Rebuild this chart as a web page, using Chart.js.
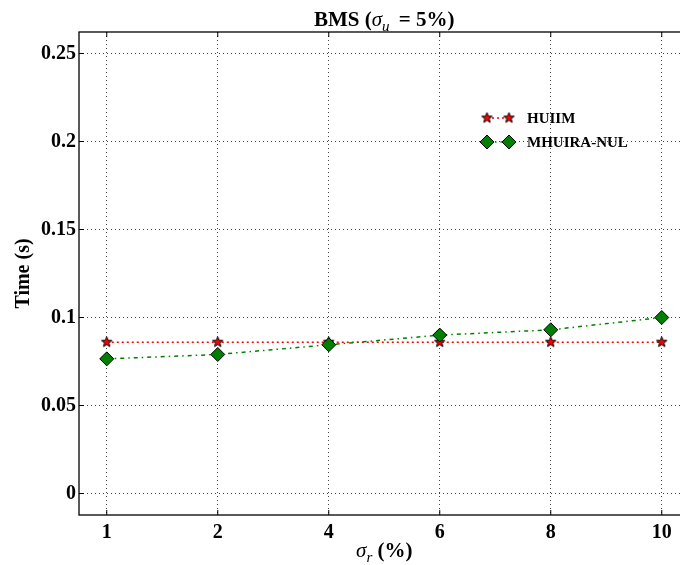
<!DOCTYPE html>
<html>
<head>
<meta charset="utf-8">
<script src="https://cdn.jsdelivr.net/npm/chart.js@4.4.0/dist/chart.umd.min.js"></script>
<style>
  html, body { margin: 0; padding: 0; background: #fff; overflow: hidden; }
  #wrap { width: 680px; height: 565px; overflow: hidden; }
</style>
</head>
<body>
<div id="wrap"><canvas id="chart" width="700" height="565" style="width:700px;height:565px"></canvas></div>
<script>
// values
const sigmaR = ['1', '2', '4', '6', '8', '10']
const huiim = [0.086, 0.086, 0.086, 0.086, 0.086, 0.086]
const mhuiraNul = [0.0765, 0.079, 0.0845, 0.090, 0.093, 0.100]
const yTicks = [0, 0.05, 0.1, 0.15, 0.2, 0.25]
const yTickLabels = ['0', '0.05', '0.1', '0.15', '0.2', '0.25']

const SERIF = '"Liberation Serif", "Times New Roman", serif'
const RED = '#ff0000'
const GREEN = '#008000'

function makeStar(r, fill) {
    const size = Math.ceil(r * 2 + 4)
    const c = document.createElement('canvas')
    c.width = size
    c.height = size
    const g = c.getContext('2d')
    const cx = size / 2, cy = size / 2
    g.beginPath()
    for (let i = 0; i < 10; i++) {
        const rad = i % 2 ? r * 0.42 : r
        const a = -Math.PI / 2 + i * Math.PI / 5
        g.lineTo(cx + rad * Math.cos(a), cy + rad * Math.sin(a))
    }
    g.closePath()
    g.fillStyle = fill
    g.fill()
    g.lineWidth = 1
    g.strokeStyle = '#000'
    g.stroke()
    return c
}

const star = makeStar(5.5, RED)

function drawDiamond(ctx, x, y, r) {
    ctx.save()
    ctx.beginPath()
    ctx.moveTo(x, y - r)
    ctx.lineTo(x + r, y)
    ctx.lineTo(x, y + r)
    ctx.lineTo(x - r, y)
    ctx.closePath()
    ctx.fillStyle = GREEN
    ctx.fill()
    ctx.lineWidth = 1
    ctx.strokeStyle = '#000'
    ctx.stroke()
    ctx.restore()
}

// draw pieces of text in a row, centered on cx
function drawRich(ctx, parts, cx, baseline) {
    let total = 0
    parts.forEach(p => {
        ctx.font = p.font
        p.w = ctx.measureText(p.text).width
        total += p.w + (p.gap || 0)
    })
    let x = cx - total / 2
    ctx.textAlign = 'left'
    ctx.textBaseline = 'alphabetic'
    ctx.fillStyle = '#000'
    parts.forEach(p => {
        ctx.font = p.font
        ctx.fillText(p.text, x, baseline + (p.dy || 0))
        x += p.w + (p.gap || 0)
    })
}

const decorations = {
    id: 'decorations',
    afterDraw(chart) {
        const {ctx, chartArea: a, scales: {x, y}} = chart
        ctx.save()

        // frame
        ctx.strokeStyle = '#000'
        ctx.lineWidth = 1.3
        ctx.strokeRect(a.left, a.top, a.right - a.left, a.bottom - a.top)

        // inward ticks
        ctx.lineWidth = 1
        ctx.beginPath()
        x.ticks.forEach(t => {
            const px = x.getPixelForValue(t.value)
            ctx.moveTo(px, a.bottom); ctx.lineTo(px, a.bottom - 5)
            ctx.moveTo(px, a.top); ctx.lineTo(px, a.top + 5)
        })
        y.ticks.forEach(t => {
            const py = y.getPixelForValue(t.value)
            ctx.moveTo(a.left, py); ctx.lineTo(a.left + 5, py)
            ctx.moveTo(a.right, py); ctx.lineTo(a.right - 5, py)
        })
        ctx.stroke()

        // legend
        const lx1 = 487, lx2 = 509, tx = 527
        const rows = [
            {label: 'HUIIM', y: 118, color: RED, dash: [2, 3], marker: 'star'},
            {label: 'MHUIRA-NUL', y: 142, color: GREEN, dash: [4, 4, 1.5, 4], marker: 'diamond'}
        ]
        rows.forEach(r => {
            ctx.save()
            ctx.strokeStyle = r.color
            ctx.lineWidth = 1.5
            ctx.setLineDash(r.dash)
            ctx.beginPath()
            ctx.moveTo(lx1, r.y)
            ctx.lineTo(lx2, r.y)
            ctx.stroke()
            ctx.restore()
            ;[lx1, lx2].forEach(px => {
                if (r.marker === 'star') ctx.drawImage(star, px - star.width / 2, r.y - star.height / 2)
                else drawDiamond(ctx, px, r.y, 7)
            })
            ctx.font = 'bold 15px ' + SERIF
            ctx.fillStyle = '#000'
            ctx.textAlign = 'left'
            ctx.textBaseline = 'middle'
            ctx.fillText(r.label, tx, r.y + 1)
        })

        const cx = (a.left + a.right) / 2
        // title
        drawRich(ctx, [
            {text: 'BMS (', font: 'bold 21px ' + SERIF},
            {text: 'σ', font: 'italic 21px ' + SERIF},
            {text: 'u', font: 'italic 15px ' + SERIF, dy: 5, gap: 4},
            {text: ' = 5%)', font: 'bold 21px ' + SERIF}
        ], cx, 26)

        // x axis label
        drawRich(ctx, [
            {text: 'σ', font: 'italic 21px ' + SERIF},
            {text: 'r', font: 'italic 15px ' + SERIF, dy: 5},
            {text: ' (%)', font: 'bold 21px ' + SERIF}
        ], cx, 557)

        ctx.restore()
    }
}

const gridLines = {
    color: '#444',
    lineWidth: 1,
    drawTicks: false
}

new Chart(document.getElementById('chart'), {
    type: 'line',
    data: {
        datasets: [
            {
                label: 'HUIIM',
                data: huiim.map((v, i) => ({x: i, y: v})),
                borderColor: RED,
                borderWidth: 1.5,
                borderDash: [2, 3],
                pointStyle: star,
                pointRadius: 5,
                order: 1
            },
            {
                label: 'MHUIRA-NUL',
                data: mhuiraNul.map((v, i) => ({x: i, y: v})),
                borderColor: GREEN,
                backgroundColor: GREEN,
                borderWidth: 1.5,
                borderDash: [4, 4, 1.5, 4],
                pointStyle: 'rectRot',
                pointRadius: 7,
                pointBorderColor: '#000',
                pointBorderWidth: 1,
                pointBackgroundColor: GREEN,
                order: 0
            }
        ]
    },
    options: {
        responsive: false,
        animation: false,
        layout: {padding: {top: 32, right: 10.5, left: 0, bottom: 0}},
        plugins: {
            legend: {display: false},
            tooltip: {enabled: false},
            title: {display: false}
        },
        scales: {
            x: {
                type: 'linear',
                min: -0.25,
                max: 5.25,
                afterBuildTicks: s => { s.ticks = sigmaR.map((_, i) => ({value: i})) },
                afterFit: s => { s.height = 50 },
                grid: gridLines,
                border: {display: false, dash: [1, 3]},
                ticks: {
                    autoSkip: false,
                    maxRotation: 0,
                    padding: 6,
                    color: '#000',
                    font: {family: SERIF, size: 20, weight: 'bold'},
                    callback: v => sigmaR[v]
                }
            },
            y: {
                min: -0.0122,
                max: 0.2622,
                afterBuildTicks: s => { s.ticks = yTicks.map(v => ({value: v})) },
                afterFit: s => { s.width = 79 },
                grid: gridLines,
                border: {display: false, dash: [1, 3]},
                ticks: {
                    padding: 3,
                    color: '#000',
                    font: {family: SERIF, size: 20, weight: 'bold'},
                    callback: (v, i) => yTickLabels[i]
                },
                title: {
                    display: true,
                    text: 'Time (s)',
                    color: '#000',
                    padding: {top: 12, bottom: 0},
                    font: {family: SERIF, size: 20, weight: 'bold'}
                }
            }
        }
    },
    plugins: [decorations]
})
</script>
</body>
</html>
